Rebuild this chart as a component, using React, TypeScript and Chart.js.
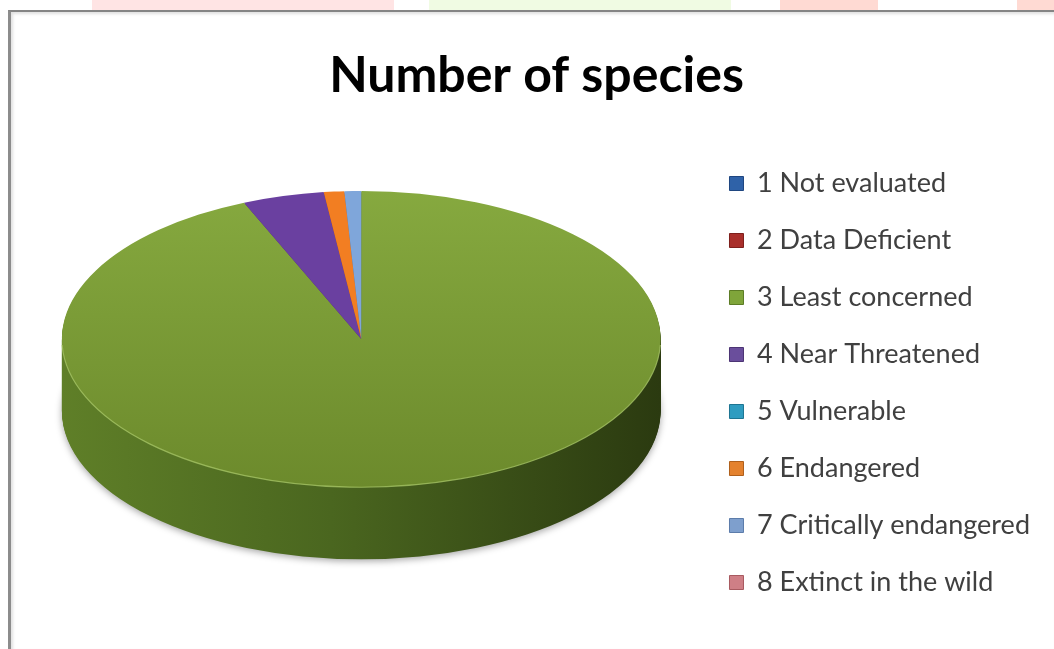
import { useEffect, useRef } from 'react';
import { Chart, registerables } from 'chart.js';

Chart.register(...registerables);

// ---- data ----
const categories = [
  '1 Not evaluated',
  '2 Data Deficient',
  '3 Least concerned',
  '4 Near Threatened',
  '5 Vulnerable',
  '6 Endangered',
  '7 Critically endangered',
  '8 Extinct in the wild',
];
const speciesCounts = [0, 0, 936, 44, 0, 11, 9, 0];
const chartTitle = 'Number of species';

// ---- styles ----
const sliceColors = ['#3B6DB5', '#B33A36', '#7C9E36', '#6A40A0', '#39A2C4', '#F27E22', '#7FA6DA', '#D9888A'];
const sideColors = ['#24477A', '#7A2522', '#4B6720', '#45296A', '#236C84', '#A85418', '#5270A0', '#9A5C5E'];
const legendColors = ['#2F62A8', '#A92F2B', '#7FA53A', '#6A4E9C', '#2F9CC0', '#E4822E', '#7E9FCD', '#CF7F86'];
const legendBorders = ['#1F4680', '#7E1F1C', '#5C7C26', '#4C3474', '#1E7592', '#B0601C', '#5C7CAA', '#A85A60'];

const PIE_WIDTH_FRAC = 0.912;
const PIE_TILT = 0.495;
const PIE_DEPTH = 0.24;

function pieGeometry(chart: any) {
  const meta = chart.getDatasetMeta(0);
  const arcs = meta.data as any[];
  if (!arcs || !arcs.length) return null;
  const a = chart.chartArea;
  const x = arcs[0].x;
  const y = arcs[0].y;
  const r = arcs[0].outerRadius;
  const rx = ((a.right - a.left) / 2) * PIE_WIDTH_FRAC;
  const ry = rx * PIE_TILT;
  const depth = rx * PIE_DEPTH;
  const cy = (a.top + a.bottom) / 2 - depth / 2;
  return { x, y, r, rx, ry, depth, cy, arcs };
}

const pie3d = {
  id: 'pie3d',
  beforeDatasetsDraw(chart: any) {
    const g = pieGeometry(chart);
    if (!g) return;
    const ctx = chart.ctx as CanvasRenderingContext2D;
    const sx = g.rx / g.r;
    const sy = g.ry / g.r;
    const sideGrad = ctx.createLinearGradient(g.x - g.r, 0, g.x + g.r, 0);
    sideGrad.addColorStop(0, '#5F7F28');
    sideGrad.addColorStop(0.45, '#4A661F');
    sideGrad.addColorStop(1, '#2B3A10');
    const depth = Math.round(g.depth);
    for (let d = depth; d >= 1; d--) {
      ctx.save();
      if (d === depth) {
        ctx.shadowColor = 'rgba(0,0,0,0.35)';
        ctx.shadowBlur = 7;
        ctx.shadowOffsetY = 2;
      }
      ctx.translate(g.x, g.cy + d);
      ctx.scale(sx, sy);
      ctx.translate(-g.x, -g.y);
      g.arcs.forEach((arc: any, i: number) => {
        if (arc.endAngle - arc.startAngle <= 0) return;
        ctx.beginPath();
        ctx.moveTo(g.x, g.y);
        ctx.arc(g.x, g.y, g.r, arc.startAngle, arc.endAngle);
        ctx.closePath();
        ctx.fillStyle = i === 2 ? sideGrad : sideColors[i];
        ctx.fill();
      });
      ctx.restore();
    }
    ctx.save();
    ctx.translate(g.x, g.cy);
    ctx.scale(sx, sy);
    ctx.translate(-g.x, -g.y);
  },
  afterDatasetsDraw(chart: any) {
    const g = pieGeometry(chart);
    if (!g) return;
    const ctx = chart.ctx as CanvasRenderingContext2D;
    ctx.beginPath();
    ctx.arc(g.x, g.y, g.r, 0.04, Math.PI - 0.04);
    ctx.restore();
    ctx.strokeStyle = 'rgba(170,200,105,0.75)';
    ctx.lineWidth = 1.2;
    ctx.stroke();
  },
};

export default function App() {
  const ref = useRef<HTMLCanvasElement>(null);

  useEffect(() => {
    const canvas = ref.current;
    if (!canvas) return;
    const chart = new Chart(canvas, {
      type: 'pie',
      data: {
        labels: categories,
        datasets: [
          {
            data: speciesCounts,
            borderWidth: 0,
            clip: false as any,
            backgroundColor: (c: any) => {
              const i = c.dataIndex;
              const ch = c.chart;
              const a = ch.chartArea;
              if (i !== 2 || !a) return sliceColors[i];
              const mid = (a.top + a.bottom) / 2;
              const r = Math.min(a.right - a.left, a.bottom - a.top) / 2;
              const grad = ch.ctx.createLinearGradient(0, mid - r, 0, mid + r);
              grad.addColorStop(0, '#86A93F');
              grad.addColorStop(1, '#6C8A2C');
              return grad;
            },
          },
        ],
      },
      options: {
        responsive: false,
        animation: false,
        events: [],
        layout: { padding: { left: 33, right: 14, top: 0, bottom: 11 } },
        plugins: {
          tooltip: { enabled: false },
          title: {
            display: true,
            text: chartTitle,
            color: '#000000',
            font: { family: 'Lato', size: 50, weight: 'bold', lineHeight: 1.2 },
            padding: { top: 46, bottom: 6 },
          },
          legend: {
            display: true,
            position: 'right',
            align: 'start',
            fullSize: false,
            title: {
              display: true,
              text: ' ',
              font: { size: 10, lineHeight: 1 },
              padding: { top: 8, bottom: 0 },
            },
            labels: {
              color: '#404040',
              font: { family: 'Lato', size: 27, lineHeight: '17px' as any },
              boxWidth: 14,
              boxHeight: 14,
              padding: 40,
              generateLabels: () =>
                categories.map((text, i) => ({
                  text: [text] as any,
                  fillStyle: legendColors[i],
                  strokeStyle: legendBorders[i],
                  lineWidth: 1,
                  hidden: false,
                  index: i,
                  fontColor: '#404040',
                })),
            },
          },
        },
      },
      plugins: [pie3d],
    });
    return () => chart.destroy();
  }, []);

  return (
    <div
      style={{
        position: 'absolute',
        left: 0,
        top: 0,
        width: 1054,
        height: 649,
        overflow: 'hidden',
        background: '#ffffff',
      }}
    >
      <div style={{ position: 'absolute', left: 92, top: 0, width: 302, height: 10, background: '#FFE4E4' }} />
      <div style={{ position: 'absolute', left: 429, top: 0, width: 302, height: 10, background: '#F0FBE3' }} />
      <div style={{ position: 'absolute', left: 780, top: 0, width: 98, height: 10, background: '#FFDAD3' }} />
      <div style={{ position: 'absolute', left: 1017, top: 0, width: 37, height: 10, background: '#FFDAD3' }} />
      <div
        style={{
          position: 'absolute',
          left: 8,
          top: 10,
          width: 1046,
          height: 639,
          boxSizing: 'border-box',
          borderTop: '2px solid #858585',
          borderLeft: '3px solid #8c8c8c',
          boxShadow: 'inset 2px 2px 3px rgba(0,0,0,0.12)',
          background: '#ffffff',
        }}
      />
      <canvas
        ref={ref}
        width={1054}
        height={649}
        style={{ position: 'absolute', left: 0, top: 0, display: 'block' }}
      />
    </div>
  );
}
